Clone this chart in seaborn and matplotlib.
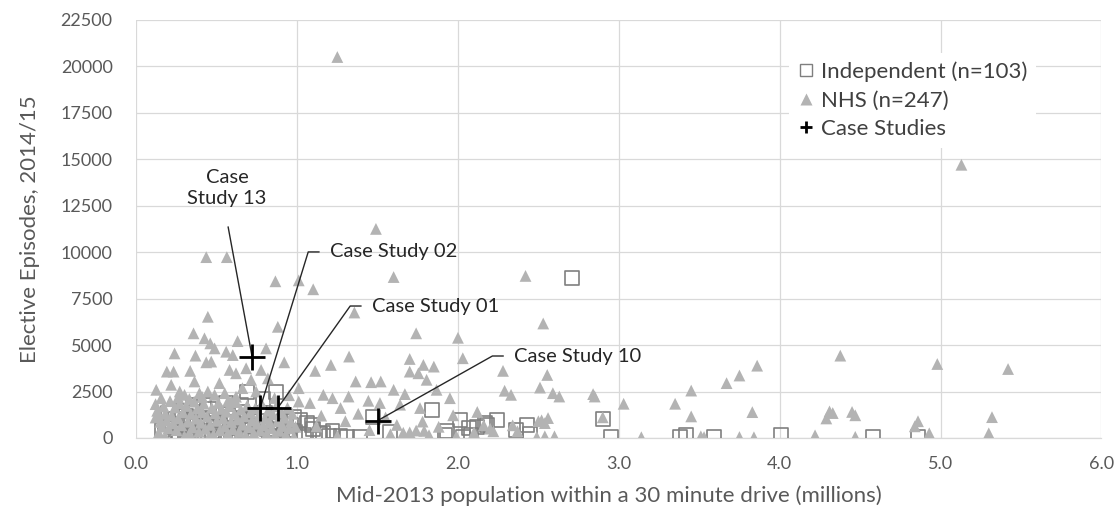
import numpy as np
import pandas as pd
import matplotlib
matplotlib.use("Agg")
import matplotlib.pyplot as plt
from matplotlib.lines import Line2D
import seaborn as sns

# Independent sector sites: (population within 30 min drive [millions], elective episodes)
independent_pts = [
    (2.71, 8600), (1.84, 1500), (1.47, 1150), (2.90, 1030), (2.01, 960), (2.24, 960),
    (2.17, 800), (2.43, 690), (2.36, 420), (2.07, 520), (2.12, 600), (2.45, 240),
    (2.08, 140), (1.92, 140), (2.03, 50), (1.93, 360), (2.18, 680), (1.39, 50),
    (1.14, 230), (1.10, 500), (1.02, 950), (1.09, 710), (1.16, 270), (1.22, 360),
    (2.95, 60), (3.38, 60), (3.42, 140), (3.59, 60), (4.01, 150), (4.58, 70),
    (4.86, 70), (0.69, 2470), (0.87, 2470), (0.35, 1750), (1.27, 120), (1.58, 300),
    (0.16, 420), (0.18, 150), (0.19, 820), (0.20, 1320), (0.22, 560), (0.23, 60),
    (0.24, 1050), (0.26, 300), (0.27, 1480), (0.29, 720), (0.30, 110), (0.31, 1200),
    (0.33, 430), (0.34, 900), (0.36, 60), (0.37, 1380), (0.38, 620), (0.40, 240),
    (0.41, 1020), (0.43, 120), (0.44, 760), (0.45, 1560), (0.47, 380), (0.48, 980),
    (0.50, 50), (0.51, 640), (0.52, 1270), (0.54, 290), (0.55, 870), (0.57, 140),
    (0.58, 520), (0.60, 1100), (0.61, 330), (0.63, 760), (0.64, 60), (0.66, 1420),
    (0.67, 450), (0.68, 980), (0.70, 180), (0.71, 640), (0.73, 1230), (0.74, 90),
    (0.75, 560), (0.77, 900), (0.78, 260), (0.80, 1320), (0.81, 480), (0.83, 130),
    (0.84, 780), (0.86, 1080), (0.87, 340), (0.89, 620), (0.90, 90), (0.92, 930),
    (0.93, 420), (0.95, 210), (0.96, 700), (0.98, 1150), (0.99, 300), (1.04, 150),
    (1.06, 820), (0.42, 1800), (0.56, 1900), (0.79, 2100), (0.65, 1750), (1.31, 60),
    (1.20, 90),
]

# NHS sites
nhs_pts = [
    (1.25, 20500), (5.13, 14700), (1.49, 11250), (0.435, 9730), (0.563, 9730),
    (0.865, 8430), (1.01, 8480), (1.10, 8000), (1.60, 8660), (2.42, 8720),
    (1.356, 6750), (2.53, 6160), (0.445, 6520), (1.74, 5630), (2.00, 5390),
    (0.356, 5630), (0.424, 5360), (0.46, 5090), (0.487, 4820), (0.63, 5210),
    (0.88, 5980), (0.238, 4550), (0.368, 4430), (0.559, 4640), (0.60, 4460),
    (0.807, 4820), (0.92, 4070), (0.435, 4070), (0.466, 4110), (0.19, 3570),
    (0.232, 3570), (0.335, 3610), (0.58, 3660), (0.62, 3480), (0.683, 3750),
    (0.776, 3660), (0.818, 3210), (0.217, 2860), (0.362, 3040), (0.517, 2950),
    (0.714, 3130), (0.124, 2590), (0.27, 2500), (0.393, 2410), (0.445, 2500),
    (0.55, 2410), (0.66, 2680), (0.745, 2500), (1.01, 2680), (0.155, 2140),
    (0.30, 2320), (0.487, 2320), (0.59, 1960), (1.01, 1960), (1.323, 4380),
    (1.21, 3930), (1.112, 3610), (1.70, 4250), (1.785, 3930), (1.85, 3840),
    (2.03, 4290), (1.70, 3570), (1.754, 3480), (1.805, 3130), (1.364, 3040),
    (1.46, 3000), (1.52, 3040), (1.60, 2590), (1.67, 2360), (1.867, 2590),
    (1.163, 2320), (1.22, 2140), (1.32, 2230), (1.443, 2000), (1.515, 1880),
    (1.95, 2140), (1.08, 1880), (1.27, 1610), (1.64, 1790), (1.764, 1610),
    (2.28, 3610), (2.555, 3390), (2.51, 2710), (2.29, 2540), (2.33, 2320),
    (2.59, 2410), (2.63, 2230), (2.84, 2360), (2.85, 2230), (3.03, 1840),
    (3.35, 1840), (3.45, 2550), (3.45, 1160), (2.56, 1070), (2.54, 800),
    (2.90, 1110), (3.14, 40), (3.51, 90), (2.20, 500), (2.22, 360),
    (2.37, 360), (2.54, 90), (2.60, 90), (4.377, 4430), (4.98, 3980),
    (5.42, 3710), (3.86, 3890), (3.75, 3360), (3.67, 2950), (3.83, 1390),
    (4.31, 1430), (4.33, 1340), (4.45, 1400), (4.47, 1220), (4.29, 1050),
    (4.86, 900), (4.84, 625), (5.32, 1120), (5.30, 250), (4.93, 250),
    (4.22, 140), (4.47, 60), (3.75, 50), (3.84, 40), (3.53, 50),
    (1.15, 1200), (1.30, 900), (1.38, 1300), (1.55, 1100), (1.62, 700),
    (1.70, 300), (1.78, 880), (1.88, 600), (1.97, 1220), (1.45, 420),
    (1.25, 110), (1.12, 620), (1.58, 200), (1.82, 150), (1.99, 90),
    (2.10, 300), (2.16, 680), (2.34, 680), (2.49, 50), (2.50, 900),
    (2.52, 950), (1.74, 400), (1.79, 380), (1.66, 280), (2.12, 1400),
    # dense group under one million population
    (0.12, 1820), (0.13, 1460), (0.14, 1130), (0.15, 870), (0.16, 610),
    (0.17, 1690), (0.18, 1300), (0.19, 940), (0.21, 1980), (0.22, 1210),
    (0.23, 780), (0.24, 1640), (0.25, 420), (0.26, 1050), (0.27, 1860),
    (0.28, 680), (0.29, 1370), (0.31, 1720), (0.32, 880), (0.33, 260),
    (0.34, 1290), (0.35, 560), (0.36, 1950), (0.37, 1040), (0.38, 1580),
    (0.39, 330), (0.40, 820), (0.41, 1390), (0.42, 1840), (0.43, 490),
    (0.44, 1140), (0.46, 700), (0.47, 1620), (0.48, 180), (0.49, 1330),
    (0.50, 920), (0.51, 1880), (0.52, 420), (0.53, 1560), (0.54, 1060),
    (0.55, 610), (0.56, 1410), (0.57, 230), (0.58, 1720), (0.59, 860),
    (0.60, 470), (0.61, 1290), (0.62, 1930), (0.63, 990), (0.64, 320),
    (0.65, 1530), (0.66, 710), (0.67, 1160), (0.68, 140), (0.69, 1750),
    (0.70, 580), (0.71, 1380), (0.72, 940), (0.73, 260), (0.74, 1600),
    (0.75, 760), (0.76, 1190), (0.77, 400), (0.78, 1840), (0.79, 680),
    (0.80, 1050), (0.81, 220), (0.82, 1460), (0.83, 830), (0.84, 520),
    (0.85, 1260), (0.86, 120), (0.87, 1700), (0.88, 900), (0.89, 380),
    (0.90, 1380), (0.91, 640), (0.92, 1080), (0.93, 180), (0.94, 1620),
    (0.95, 520), (0.96, 870), (0.97, 1300), (0.98, 60), (0.99, 600),
    (0.14, 290), (0.18, 90), (0.20, 510), (0.30, 90), (0.45, 60),
    (0.57, 1990), (0.33, 2100), (0.41, 2200), (0.62, 2220), (0.86, 2150),
    (0.95, 2300), (0.12, 1100), (0.26, 2190),
]

# Case study sites
case_x = [0.72, 0.77, 0.88, 1.50]
case_y = [4380, 1600, 1620, 930]
case_names = ["Case\nStudy 13", "Case Study 02", "Case Study 01", "Case Study 10"]
# label anchor positions (data units)
label_x = [0.565, 1.205, 1.466, 2.35]
label_y = [13450, 10010, 7100, 4410]
# start of the leader line below the two-line label
stem_top = (0.571, 11360)

x_ticks = [0.0, 1.0, 2.0, 3.0, 4.0, 5.0, 6.0]
y_ticks = [0, 2500, 5000, 7500, 10000, 12500, 15000, 17500, 20000, 22500]

ind = pd.DataFrame(independent_pts, columns=["pop", "episodes"])
nhs = pd.DataFrame(nhs_pts, columns=["pop", "episodes"])
cases = pd.DataFrame({"pop": case_x, "episodes": case_y, "name": case_names})

sns.set_theme(style="white")
plt.rcParams["font.family"] = ["Lato", "DejaVu Sans"]

fig, ax = plt.subplots(figsize=(11.17, 5.22), dpi=100)
fig.subplots_adjust(left=0.122, right=0.986, top=0.962, bottom=0.161)

grid_c = "#d9d9d9"
sq_c = "#7f7f7f"
tri_c = "#b3b3b3"
txt_c = "#262626"

sns.scatterplot(data=ind, x="pop", y="episodes", ax=ax, marker="s", s=100,
                color=sq_c, facecolor="none", edgecolor=sq_c, linewidth=1.2,
                zorder=3, legend=False)
ax.collections[-1].set_facecolor("none")
sns.scatterplot(data=nhs, x="pop", y="episodes", ax=ax, marker="^", s=72,
                color=tri_c, edgecolor="none", linewidth=0, zorder=4, legend=False)
sns.scatterplot(data=cases, x="pop", y="episodes", ax=ax, marker="+", s=330,
                color="black", linewidth=2.0, zorder=6, legend=False)

ax.set_xlim(0, 6)
ax.set_ylim(0, 22500)
ax.set_xticks(x_ticks)
ax.set_xticklabels([f"{t:.1f}" for t in x_ticks])
ax.set_yticks(y_ticks)
ax.set_yticklabels([str(t) for t in y_ticks])
ax.grid(True, color=grid_c, linewidth=0.9, zorder=0)
ax.set_axisbelow(True)
for side in ["top", "right", "left"]:
    ax.spines[side].set_visible(False)
ax.spines["bottom"].set_color(grid_c)
ax.spines["bottom"].set_linewidth(0.9)
ax.tick_params(axis="both", length=0, labelsize=13, colors="#595959")
ax.tick_params(axis="y", pad=17)
ax.tick_params(axis="x", pad=13)

ax.set_xlabel("Mid-2013 population within a 30 minute drive (millions)",
              fontsize=16, color="#595959")
ax.set_ylabel("Elective Episodes, 2014/15", fontsize=16, color="#595959")
ax.xaxis.set_label_coords(0.49, -0.113)
ax.yaxis.set_label_coords(-0.1, 0.5)

# case study labels with leader lines
gap = 0.068
seg = 0.068
for i, name in enumerate(case_names):
    if "\n" in name:
        ax.text(label_x[i], label_y[i], name, ha="center", va="center",
                fontsize=14.5, color=txt_c, linespacing=1.3, zorder=7)
        ax.plot([stem_top[0], case_x[i]], [stem_top[1], case_y[i]],
                color=txt_c, lw=1.0, zorder=5)
    else:
        ax.text(label_x[i], label_y[i], name, ha="left", va="center",
                fontsize=14.5, color=txt_c, zorder=7)
        xc = label_x[i] - gap
        ax.plot([xc, xc - seg, case_x[i]], [label_y[i], label_y[i], case_y[i]],
                color=txt_c, lw=1.0, zorder=5)

handles = [
    Line2D([], [], marker="s", linestyle="none", markersize=8,
           markerfacecolor="none", markeredgecolor=sq_c, markeredgewidth=1.0),
    Line2D([], [], marker="^", linestyle="none", markersize=8,
           markerfacecolor=tri_c, markeredgecolor="none"),
    Line2D([], [], marker="+", linestyle="none", markersize=9,
           markeredgecolor="black", markeredgewidth=2.0),
]
labels = ["Independent (n=103)", "NHS (n=247)", "Case Studies"]
leg = ax.legend(handles, labels, loc="upper left", bbox_to_anchor=(0.6645, 0.948),
                frameon=True, fontsize=16, handlelength=0.8, handletextpad=0.25,
                labelspacing=0.38, borderpad=0.4, labelcolor="#404040")
leg.get_frame().set_facecolor("white")
leg.get_frame().set_edgecolor("none")
leg.get_frame().set_alpha(1.0)
leg.set_zorder(8)

fig.savefig("out.png", dpi=100, facecolor="white")
